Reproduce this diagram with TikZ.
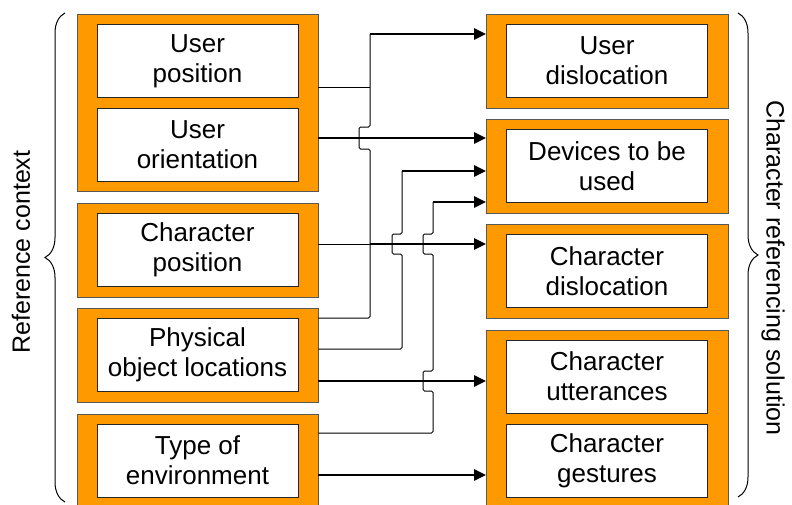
\documentclass[tikz,border=0pt]{standalone}
\usepackage{fontspec}
\setmainfont{Liberation Sans}
\usetikzlibrary{positioning,fit,backgrounds,arrows.meta,decorations.pathreplacing}
\definecolor{boxorange}{RGB}{255,153,0}

\begin{document}
\begin{tikzpicture}[x=1pt, y=-1pt,
  item/.style={draw=black!85, fill=white, align=center, inner sep=0pt,
    minimum width=201pt, minimum height=73pt, font=\fontsize{26}{30}\selectfont},
  group/.style={draw=black!65, fill=boxorange, inner xsep=20pt, inner ysep=10pt},
  link/.style={line width=1pt, rounded corners=1.5pt},
  arr/.style={line width=2.6pt, -{Triangle[length=12pt,width=11pt]}},
  side/.style={font=\fontsize{25}{30}\selectfont}]
\useasboundingbox (0,0) rectangle (792,504);

% reference context
\node[item] (upos) at (197.5, 61) {User\\position};
\node[item] (uori) at (197.5, 144.5) {User\\orientation};
\node[item] (cpos) at (197.5, 250) {Character\\position};
\node[item] (phys) at (197.5, 355) {Physical\\object locations};
\node[item] (env) at (197.5, 460.5) {Type of\\environment};

% character referencing solution
\node[item] (udis) at (607, 61) {User\\dislocation};
\node[item] (dev) at (607, 166) {Devices to be\\used};
\node[item] (cdis) at (607, 271) {Character\\dislocation};
\node[item] (utt) at (607, 376.5) {Character\\utterances};
\node[item] (ges) at (607, 460.5) {Character\\gestures};
\coordinate (lbot) at (197.5, 520);
\coordinate (rbot) at (607, 520);

\begin{pgfonlayer}{background}
\node[group, fit=(upos)(uori)] (lg1) {};
\node[group, fit=(cpos)] (lg2) {};
\node[group, fit=(phys)] (lg3) {};
\node[group, fit=(env)(lbot)] (lg4) {};
\node[group, fit=(udis)] (rg1) {};
\node[group, fit=(dev)] (rg2) {};
\node[group, fit=(cdis)] (rg3) {};
\node[group, fit=(utt)(ges)(rbot)] (rg4) {};
\end{pgfonlayer}

% braces
\draw[line width=1pt, decorate, decoration={brace, amplitude=20pt}] (65,502) -- (65,13);
\draw[line width=1pt, decorate, decoration={brace, amplitude=20pt}] (738,13) -- (738,497);
\node[side, rotate=90] (refctx) at (21,252) {Reference context};
\node[side, rotate=-90] (solution) at (773,268) {Character referencing solution};

% thin links
\draw[link] (lg1.east |- 0,87) -- (370,87);
\draw[link] (370,34) -- (370,127) -- ++(-11,0) -- ++(0,22) -- ++(11,0) -- (370,318) -- (lg3.east |- 0,318);
\draw[link] (lg2.east |- 0,244) -- (370,244);
\draw[link] (lg3.east |- 0,349) -- (402,349) -- (402,254) -- ++(-10,0) -- ++(0,-20) -- ++(10,0) -- (402,171);
\draw[link] (lg4.east |- 0,433) -- (433,433) -- (433,391) -- ++(-10,0) -- ++(0,-20) -- ++(10,0)
  -- (433,254) -- ++(-10,0) -- ++(0,-20) -- ++(10,0) -- (433,202);

% arrows
\draw[arr] (370,34) -- (rg1.west |- 0,34);
\draw[arr] (lg1.east |- 0,138) -- (rg2.west |- 0,138);
\draw[arr] (402,171) -- (rg2.west |- 0,171);
\draw[arr] (433,202) -- (rg2.west |- 0,202);
\draw[arr] (370,244) -- (rg3.west |- 0,244);
\draw[arr] (lg3.east |- 0,381) -- (rg4.west |- 0,381);
\draw[arr] (lg4.east |- 0,475) -- (rg4.west |- 0,475);
\end{tikzpicture}
\end{document}
